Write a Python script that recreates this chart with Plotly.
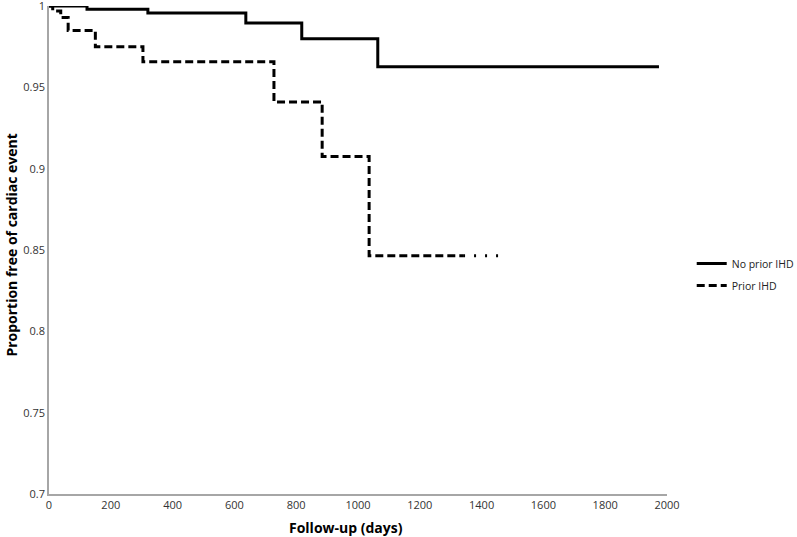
import plotly.graph_objects as go

# Kaplan-Meier style step data (days, proportion free of cardiac event)
no_prior_days = [0, 123, 320, 637, 818, 1064, 1974]
no_prior_surv = [1.0, 0.998, 0.9957, 0.9896, 0.9798, 0.9626, 0.9626]

prior_days = [0, 12, 38, 62, 150, 304, 728, 884, 1036, 1340]
prior_surv = [1.0, 0.997, 0.993, 0.985, 0.975, 0.9657, 0.9410, 0.9075, 0.8465, 0.8465]

prior_tail_days = [1340, 1465]
prior_tail_surv = [0.8465, 0.8465]

y_ticks = [0.7, 0.75, 0.8, 0.85, 0.9, 0.95, 1.0]
y_tick_text = ["0.7", "0.75", "0.8", "0.85", "0.9", "0.95", "1"]
x_ticks = [0, 200, 400, 600, 800, 1000, 1200, 1400, 1600, 1800, 2000]

fig = go.Figure()
fig.add_trace(go.Scatter(x=no_prior_days, y=no_prior_surv, mode="lines",
                         line=dict(shape="hv", color="black", width=3),
                         name="No prior IHD", legendgroup="a"))
fig.add_trace(go.Scatter(x=prior_days, y=prior_surv, mode="lines",
                         line=dict(shape="hv", color="black", width=3, dash="8px,4px"),
                         name="Prior IHD", legendgroup="b"))
fig.add_trace(go.Scatter(x=prior_tail_days, y=prior_tail_surv, mode="lines",
                         line=dict(color="black", width=3, dash="2px,9px"),
                         showlegend=False, legendgroup="b"))

fig.update_layout(
    width=797, height=537,
    margin=dict(l=49, r=130, t=6, b=43, autoexpand=False),
    plot_bgcolor="white", paper_bgcolor="white",
    font=dict(family="Open Sans", size=11, color="#333"),
    showlegend=True,
    legend=dict(x=1.04, y=0.45, xanchor="left", yanchor="middle",
                font=dict(size=10.5, color="#222"), tracegroupgap=3,
                itemwidth=30, bgcolor="rgba(0,0,0,0)"),
    xaxis=dict(range=[0, 2000], tickvals=x_ticks, showgrid=False, zeroline=False,
               showline=True, linecolor="#a6a6a6", linewidth=1.5, ticks="",
               automargin=False, tickfont=dict(size=11), ticklabeloverflow="allow"),
    yaxis=dict(range=[0.7, 1.0], tickvals=y_ticks, ticktext=y_tick_text, showgrid=False,
               zeroline=False, showline=True, linecolor="#a6a6a6", linewidth=1.5, ticks="",
               automargin=False, tickfont=dict(size=11), ticklabeloverflow="allow"),
    annotations=[
        dict(text="<b>Follow-up (days)</b>", x=0.48, y=0, xref="paper", yref="paper",
             xanchor="center", yanchor="top", yshift=-22, showarrow=False,
             font=dict(size=14, color="black")),
        dict(text="<b>Proportion free of cardiac event</b>", x=0, y=0.509, xref="paper", yref="paper",
             xanchor="center", yanchor="middle", xshift=-37, textangle=-90, showarrow=False,
             font=dict(size=14, color="black")),
    ],
)

fig.write_html("out.html", config={"displayModeBar": False})

# remove the default browser body margin so the figure sits at the page origin
with open("out.html", "r", encoding="utf-8") as f:
    html = f.read()
html = html.replace("<head>", "<head><style>html,body{margin:0;padding:0;overflow:hidden;}</style>", 1)
with open("out.html", "w", encoding="utf-8") as f:
    f.write(html)
